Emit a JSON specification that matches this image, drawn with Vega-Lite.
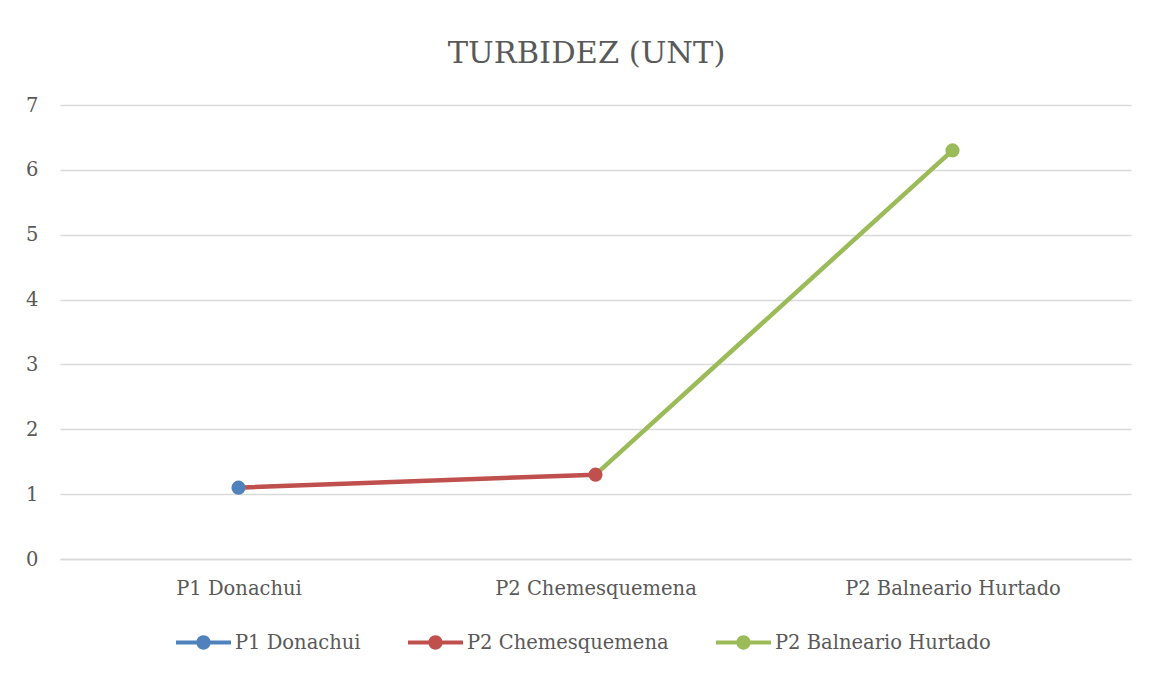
{
  "$schema": "https://vega.github.io/schema/vega-lite/v6.json",
  "width": 1071,
  "height": 454,
  "autosize": "none",
  "padding": {"left": 60, "top": 105, "right": 23, "bottom": 116},
  "background": "white",
  "title": {
    "text": "TURBIDEZ (UNT)",
    "font": "DejaVu Serif",
    "fontSize": 30.5,
    "fontWeight": "normal",
    "color": "#595959",
    "anchor": "middle",
    "offset": 26,
    "dx": -9
  },
  "datasets": {
    "segments": [
      {"punto": "P1 Donachui", "valor": 1.1, "serie": "P2 Chemesquemena"},
      {"punto": "P2 Chemesquemena", "valor": 1.3, "serie": "P2 Chemesquemena"},
      {"punto": "P2 Chemesquemena", "valor": 1.3, "serie": "P2 Balneario Hurtado"},
      {"punto": "P2 Balneario Hurtado", "valor": 6.3, "serie": "P2 Balneario Hurtado"}
    ],
    "puntos": [
      {"punto": "P1 Donachui", "valor": 1.1, "serie": "P1 Donachui"},
      {"punto": "P2 Chemesquemena", "valor": 1.3, "serie": "P2 Chemesquemena"},
      {"punto": "P2 Balneario Hurtado", "valor": 6.3, "serie": "P2 Balneario Hurtado"}
    ]
  },
  "layer": [
    {
      "data": {"name": "segments"},
      "mark": {"type": "line", "strokeWidth": 4.5, "strokeCap": "round"},
      "encoding": {
        "x": {"field": "punto", "type": "nominal", "sort": ["P1 Donachui", "P2 Chemesquemena", "P2 Balneario Hurtado"]},
        "y": {"field": "valor", "type": "quantitative", "scale": {"domain": [0, 7]}, "axis": {"values": [0, 1, 2, 3, 4, 5, 6, 7], "format": "d"}},
        "color": {
          "field": "serie",
          "type": "nominal",
          "scale": {"domain": ["P1 Donachui", "P2 Chemesquemena", "P2 Balneario Hurtado"], "range": ["#4F81BD", "#C0504D", "#9BBB59"]}
        }
      }
    },
    {
      "data": {"name": "puntos"},
      "mark": {"type": "point", "filled": true, "size": 200, "opacity": 1, "shape": "circle"},
      "encoding": {
        "x": {"field": "punto", "type": "nominal", "sort": ["P1 Donachui", "P2 Chemesquemena", "P2 Balneario Hurtado"]},
        "y": {"field": "valor", "type": "quantitative", "scale": {"domain": [0, 7]}, "axis": {"values": [0, 1, 2, 3, 4, 5, 6, 7], "format": "d"}},
        "color": {
          "field": "serie",
          "type": "nominal",
          "scale": {"domain": ["P1 Donachui", "P2 Chemesquemena", "P2 Balneario Hurtado"], "range": ["#4F81BD", "#C0504D", "#9BBB59"]}
        }
      }
    }
  ],
  "config": {
    "view": {"stroke": null},
    "scale": {"pointPadding": 0.5},
    "legend": {
      "orient": "none",
      "legendX": 116,
      "legendY": 510,
      "direction": "horizontal",
      "title": null,
      "symbolType": "M-1,-0.075 L-0.24,-0.075 L-0.24,0.075 L-1,0.075 Z M0.24,-0.075 L1,-0.075 L1,0.075 L0.24,0.075 Z M-0.26,0 A0.26,0.26 0 1,1 0.26,0 A0.26,0.26 0 1,1 -0.26,0 Z",
      "symbolSize": 3025,
      "symbolStrokeWidth": 0,
      "symbolOpacity": 1,
      "labelFont": "DejaVu Serif",
      "labelFontSize": 19.5,
      "labelColor": "#595959",
      "labelOffset": 4,
      "labelLimit": 0,
      "columnPadding": 47
    },
    "axisX": {
      "title": null,
      "labelAngle": 0,
      "labelFont": "DejaVu Serif",
      "labelFontSize": 19.5,
      "labelColor": "#595959",
      "labelLimit": 0,
      "ticks": false,
      "domain": true,
      "domainColor": "#D9D9D9",
      "domainWidth": 1.5,
      "labelPadding": 20,
      "grid": false
    },
    "axisY": {
      "title": null,
      "labelFont": "DejaVu Serif",
      "labelFontSize": 19.5,
      "labelColor": "#595959",
      "ticks": false,
      "domain": false,
      "gridColor": "#D9D9D9",
      "gridWidth": 1.5,
      "labelPadding": 22
    }
  }
}
